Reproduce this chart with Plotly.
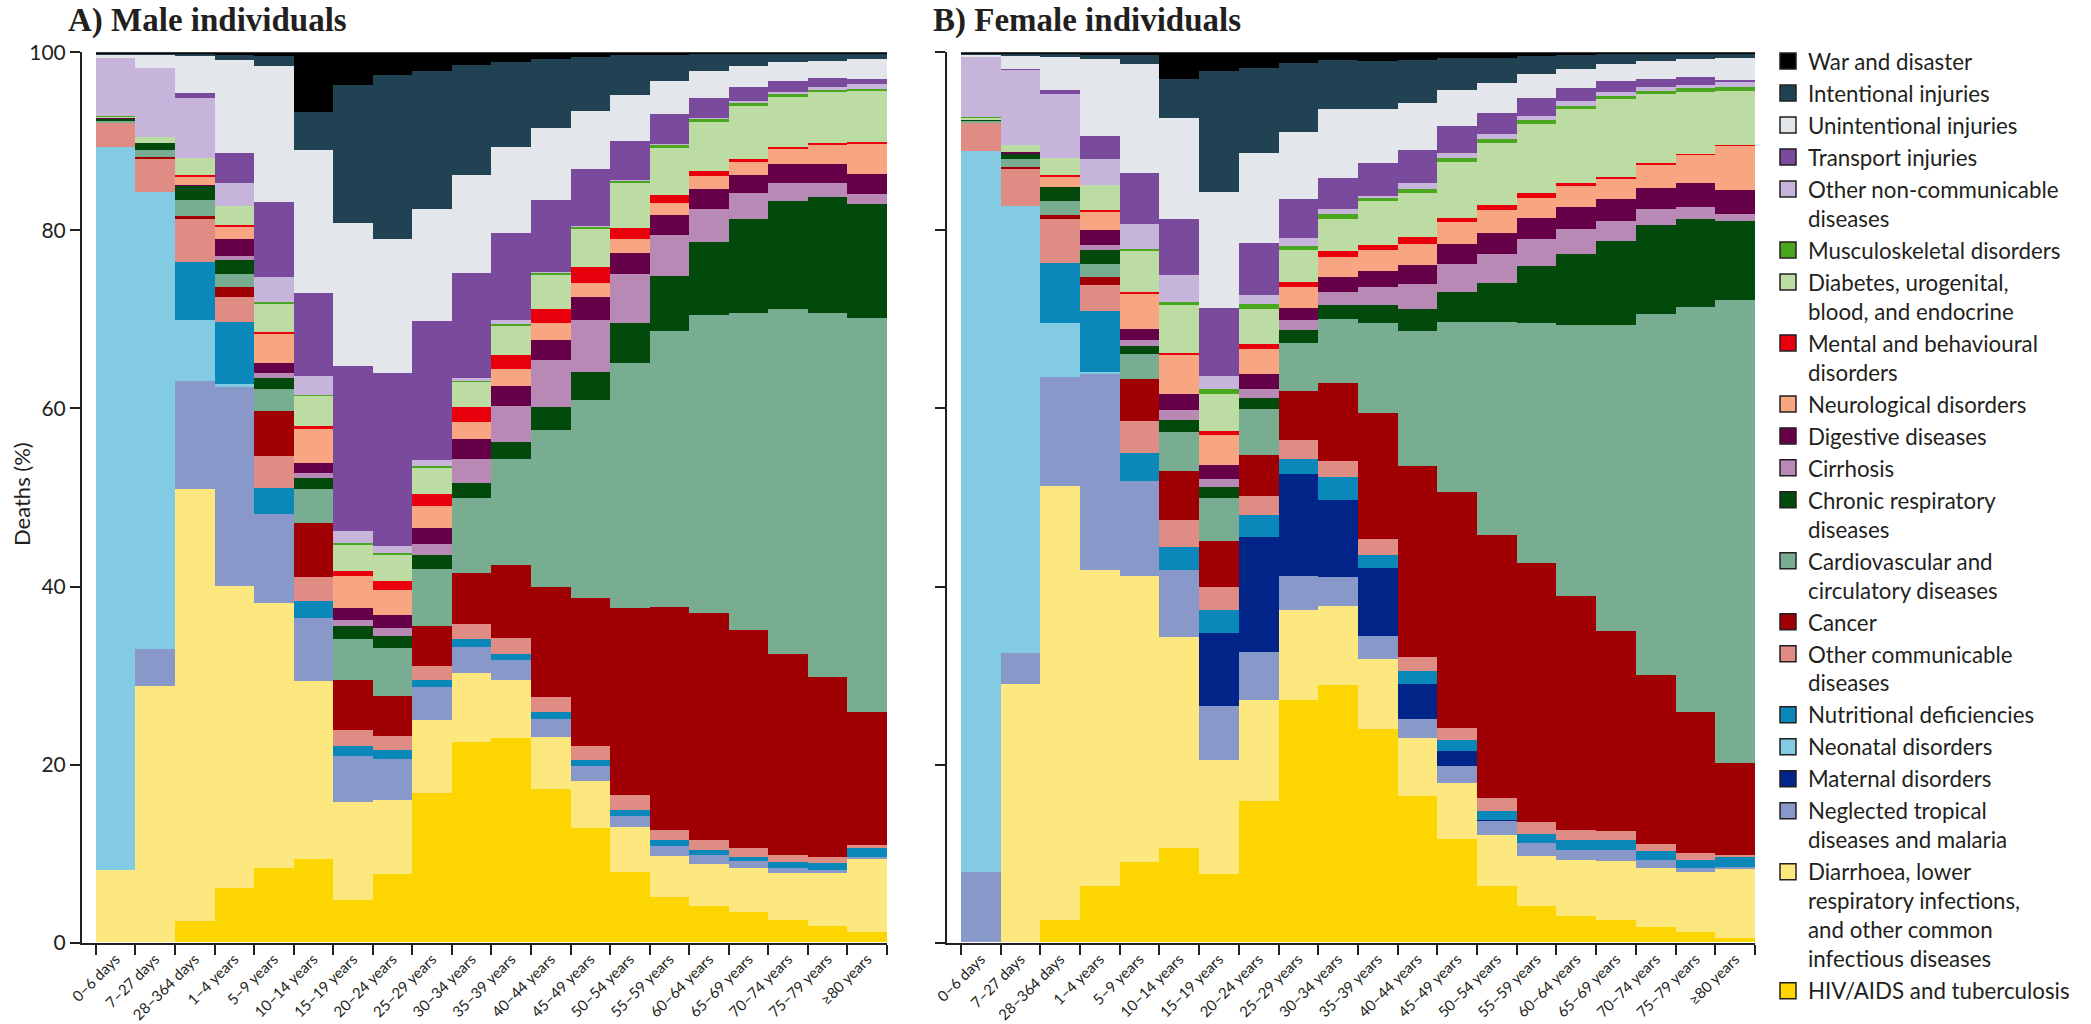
import plotly.graph_objects as go

W, H = 2091, 1024

categories = ["0–6 days", "7–27 days", "28–364 days", "1–4 years", "5–9 years",
              "10–14 years", "15–19 years", "20–24 years", "25–29 years", "30–34 years",
              "35–39 years", "40–44 years", "45–49 years", "50–54 years", "55–59 years",
              "60–64 years", "65–69 years", "70–74 years", "75–79 years", "≥80 years"]

y_ticks = [0, 20, 40, 60, 80, 100]

# ---------------- Male individuals (% of deaths) ----------------
male_hiv = [0, 0, 2.44, 6.11, 8.36, 9.29, 4.8, 7.72, 16.78, 22.5, 22.96, 17.24, 12.85, 7.87, 5.1, 4.05, 3.37, 2.47, 1.88, 1.12]
male_diarrhoea = [8.17, 28.77, 48.5, 33.97, 29.77, 19.92, 10.93, 8.24, 8.16, 7.77, 6.56, 5.84, 5.32, 5.05, 4.64, 4.79, 4.99, 5.33, 5.92, 8.36]
male_ntd = [0, 4.23, 12.09, 22.39, 9.93, 7.12, 5.25, 4.64, 3.71, 2.88, 2.24, 2.05, 1.68, 1.32, 1.05, 1.01, 0.74, 0.56, 0.37, 0.15]
male_maternal = [0] * 20
male_neonatal = [81.38, 51.27, 6.86, 0.2, 0, 0, 0, 0, 0, 0, 0, 0, 0, 0, 0, 0, 0, 0, 0, 0]
male_nutritional = [0, 0, 6.56, 7.0, 3.0, 1.8, 1.12, 1.05, 0.87, 0.94, 0.68, 0.71, 0.68, 0.67, 0.67, 0.57, 0.5, 0.63, 0.75, 0.97]
male_other_comm = [2.7, 3.73, 4.85, 2.81, 3.54, 2.7, 1.8, 1.5, 1.57, 1.61, 1.76, 1.73, 1.6, 1.61, 1.2, 1.04, 1.0, 0.86, 0.63, 0.38]
male_cancer = [0, 0.2, 0.34, 1.17, 5.06, 6.1, 5.54, 4.49, 4.49, 5.73, 8.13, 12.36, 16.57, 21.05, 25.02, 25.55, 24.46, 22.59, 20.27, 14.98]
male_cardio = [0.3, 0.8, 1.7, 1.38, 2.44, 3.79, 4.65, 5.44, 6.37, 8.5, 11.91, 17.67, 22.28, 27.45, 30.97, 33.41, 35.66, 38.73, 40.97, 44.31]
male_chronic_resp = [0.2, 0.75, 1.68, 1.58, 1.3, 1.27, 1.49, 1.3, 1.61, 1.61, 1.94, 2.56, 3.18, 4.58, 6.18, 8.23, 10.56, 12.2, 13.03, 12.81]
male_cirrhosis = [0, 0, 0, 0.45, 0.56, 0.5, 0.6, 0.94, 1.13, 2.77, 4.04, 5.23, 5.81, 5.42, 4.57, 3.75, 2.92, 2.02, 1.57, 1.12]
male_digestive = [0.05, 0, 0.1, 1.9, 1.14, 1.1, 1.39, 1.5, 1.87, 2.17, 2.25, 2.33, 2.61, 2.44, 2.25, 2.25, 2.06, 2.1, 2.18, 2.17]
male_neuro = [0, 0, 0.95, 1.49, 3.18, 3.94, 3.55, 2.81, 2.43, 1.95, 1.96, 1.88, 1.58, 1.57, 1.43, 1.42, 1.49, 1.66, 2.17, 3.52]
male_mental = [0, 0, 0.15, 0.1, 0.25, 0.2, 0.57, 1.0, 1.31, 1.73, 1.49, 1.57, 1.73, 1.24, 0.82, 0.52, 0.3, 0.3, 0.15, 0.1]
male_diabetes = [0.2, 0.76, 1.9, 2.1, 3.2, 3.4, 3.0, 2.92, 3.0, 2.76, 3.37, 3.85, 4.38, 4.98, 5.36, 5.54, 5.96, 5.61, 5.73, 5.74]
male_musculo = [0.05, 0, 0, 0, 0.15, 0.15, 0.15, 0.15, 0.15, 0.15, 0.15, 0.2, 0.2, 0.3, 0.34, 0.37, 0.3, 0.3, 0.3, 0.27]
male_other_ncd = [6.55, 7.74, 6.74, 2.6, 2.8, 2.1, 1.35, 0.8, 0.7, 0.3, 0.45, 0.1, 0.1, 0.1, 0.1, 0.1, 0.3, 0.3, 0.34, 0.56]
male_transport = [0, 0, 0.57, 3.44, 8.43, 9.24, 18.54, 19.41, 15.62, 11.81, 9.82, 8.04, 6.35, 4.35, 3.3, 2.27, 1.58, 1.19, 0.98, 0.52]
male_unintentional = [0.35, 1.5, 4.11, 10.41, 15.28, 16.04, 16.03, 15.13, 12.55, 10.94, 9.66, 8.16, 6.55, 5.13, 3.74, 3.0, 2.32, 2.14, 1.94, 2.29]
male_intentional = [0.1, 0.1, 0.3, 0.6, 1.12, 4.19, 15.51, 18.35, 15.54, 12.35, 9.51, 7.75, 6.11, 4.5, 2.89, 1.94, 1.4, 0.95, 0.8, 0.6]
male_war = [0.17, 0.17, 0.17, 0.3, 0.45, 6.74, 3.74, 2.62, 2.13, 1.5, 1.12, 0.75, 0.52, 0.37, 0.37, 0.19, 0.17, 0.17, 0.17, 0.17]

# ---------------- Female individuals (% of deaths) ----------------
female_hiv = [0, 0, 2.55, 6.29, 8.99, 10.6, 7.72, 15.84, 27.27, 28.96, 23.97, 16.48, 11.62, 6.37, 4.05, 2.92, 2.47, 1.73, 1.12, 0.49]
female_diarrhoea = [0, 28.96, 48.69, 35.59, 32.21, 23.71, 12.73, 11.43, 10.11, 8.79, 7.87, 6.48, 6.29, 5.73, 5.69, 6.29, 6.63, 6.63, 6.75, 7.87]
female_ntd = [7.87, 3.56, 12.29, 22.02, 10.6, 7.49, 6.15, 5.31, 3.82, 3.31, 2.62, 2.14, 1.87, 1.61, 1.43, 1.21, 1.32, 0.85, 0.49, 0.1]
female_maternal = [0, 0, 0, 0, 0, 0, 8.16, 12.97, 11.35, 8.68, 7.6, 3.97, 1.68, 0.05, 0, 0, 0, 0, 0, 0]
female_neonatal = [80.75, 50.18, 6.07, 0.15, 0, 0, 0, 0, 0, 0, 0, 0, 0, 0, 0, 0, 0, 0, 0, 0]
female_nutritional = [0, 0, 6.74, 6.85, 3.11, 2.63, 2.54, 2.51, 1.76, 2.55, 1.5, 1.38, 1.24, 0.96, 1.01, 1.04, 1.04, 1.01, 0.93, 1.14]
female_other_comm = [3.26, 4.12, 4.86, 2.89, 3.63, 3.06, 2.63, 2.05, 2.09, 1.75, 1.69, 1.62, 1.39, 1.5, 1.3, 1.2, 1.01, 0.87, 0.75, 0.26]
female_cancer = [0, 0.3, 0.45, 0.97, 4.68, 5.43, 5.13, 4.69, 5.51, 8.81, 14.23, 21.49, 26.47, 29.48, 29.15, 26.22, 22.47, 18.99, 15.8, 10.3]
female_cardio = [0.2, 0.8, 1.61, 1.39, 2.81, 4.38, 4.87, 5.13, 5.44, 7.12, 10.12, 15.09, 19.1, 23.96, 26.97, 30.41, 34.35, 40.56, 45.55, 52.05]
female_chronic_resp = [0.15, 0.68, 1.61, 1.6, 0.94, 1.35, 1.24, 1.24, 1.41, 1.57, 1.94, 2.52, 3.37, 4.43, 6.36, 7.98, 9.47, 10.0, 9.89, 8.91]
female_cirrhosis = [0, 0, 0, 0.52, 0.67, 1.12, 0.82, 0.94, 1.12, 1.5, 2.1, 2.73, 3.12, 3.18, 3.07, 2.81, 2.25, 1.76, 1.35, 0.84]
female_digestive = [0, 0.1, 0, 1.73, 1.2, 1.77, 1.68, 1.69, 1.4, 1.72, 1.75, 2.13, 2.24, 2.44, 2.36, 2.55, 2.44, 2.36, 2.69, 2.69]
female_neuro = [0, 0, 1.2, 2.13, 4.05, 4.49, 3.37, 2.88, 2.36, 2.25, 2.36, 2.36, 2.51, 2.54, 2.25, 2.31, 2.25, 2.62, 3.18, 4.98]
female_mental = [0, 0, 0.1, 0.15, 0.15, 0.2, 0.37, 0.49, 0.52, 0.64, 0.52, 0.86, 0.49, 0.52, 0.49, 0.37, 0.3, 0.2, 0.15, 0.1]
female_diabetes = [0.15, 0.8, 1.96, 2.74, 4.71, 5.31, 4.13, 3.93, 3.59, 3.63, 4.99, 4.95, 6.25, 6.97, 7.75, 8.25, 8.69, 7.78, 6.97, 6.08]
female_musculo = [0.1, 0, 0, 0, 0.15, 0.37, 0.56, 0.56, 0.45, 0.49, 0.37, 0.45, 0.49, 0.45, 0.49, 0.37, 0.37, 0.37, 0.37, 0.37]
female_other_ncd = [6.67, 8.46, 7.12, 3.0, 2.74, 3.0, 1.5, 1.01, 0.9, 0.56, 0.2, 0.67, 0.49, 0.56, 0.45, 0.56, 0.45, 0.45, 0.37, 0.56]
female_transport = [0, 0.1, 0.48, 2.54, 5.81, 6.29, 7.68, 5.92, 4.43, 3.56, 3.66, 3.67, 3.07, 2.36, 2.05, 1.51, 1.23, 0.82, 0.86, 0.26]
female_unintentional = [0.3, 1.55, 3.75, 8.69, 12.17, 11.43, 12.99, 10.04, 7.48, 7.74, 6.07, 5.32, 4.04, 3.45, 2.62, 2.13, 1.88, 2.1, 2.03, 2.48]
female_intentional = [0.1, 0.2, 0.3, 0.45, 1.0, 4.3, 13.6, 9.62, 7.72, 5.47, 5.43, 4.79, 3.64, 2.81, 2.06, 1.5, 1.2, 0.8, 0.65, 0.5]
female_war = [0.2, 0.17, 0.22, 0.3, 0.37, 3.07, 2.13, 1.76, 1.27, 0.9, 1.01, 0.9, 0.63, 0.63, 0.45, 0.37, 0.18, 0.17, 0.17, 0.17]

# Series, bottom of the stack first: (legend label, colour, male values, female values)
series = [
    ("HIV/AIDS and tuberculosis", "#fdd500", male_hiv, female_hiv),
    ("Diarrhoea, lower<br>respiratory infections,<br>and other common<br>infectious diseases", "#fde77f", male_diarrhoea, female_diarrhoea),
    ("Neglected tropical<br>diseases and malaria", "#8898c9", male_ntd, female_ntd),
    ("Maternal disorders", "#012489", male_maternal, female_maternal),
    ("Neonatal disorders", "#82cbe2", male_neonatal, female_neonatal),
    ("Nutritional deficiencies", "#0a88b9", male_nutritional, female_nutritional),
    ("Other communicable<br>diseases", "#df8c84", male_other_comm, female_other_comm),
    ("Cancer", "#a00003", male_cancer, female_cancer),
    ("Cardiovascular and<br>circulatory diseases", "#78ad91", male_cardio, female_cardio),
    ("Chronic respiratory<br>diseases", "#014a0c", male_chronic_resp, female_chronic_resp),
    ("Cirrhosis", "#b889b4", male_cirrhosis, female_cirrhosis),
    ("Digestive diseases", "#660049", male_digestive, female_digestive),
    ("Neurological disorders", "#f8a682", male_neuro, female_neuro),
    ("Mental and behavioural<br>disorders", "#e9000c", male_mental, female_mental),
    ("Diabetes, urogenital,<br>blood, and endocrine", "#bddca4", male_diabetes, female_diabetes),
    ("Musculoskeletal disorders", "#4aa51f", male_musculo, female_musculo),
    ("Other non-communicable<br>diseases", "#c6b4da", male_other_ncd, female_other_ncd),
    ("Transport injuries", "#7a4a9c", male_transport, female_transport),
    ("Unintentional injuries", "#e3e6ea", male_unintentional, female_unintentional),
    ("Intentional injuries", "#214252", male_intentional, female_intentional),
    ("War and disaster", "#000000", male_war, female_war),
]

TXT = "#231f20"
FONT = "Lato"

fig = go.Figure()
for i, (name, color, mvals, fvals) in enumerate(series):
    grp = "g%d" % i
    fig.add_trace(go.Bar(x=categories, y=mvals, name=name, legendgroup=grp,
                         marker=dict(color=color, line=dict(width=0)),
                         xaxis="x", yaxis="y", showlegend=False))
    fig.add_trace(go.Bar(x=categories, y=fvals, name=name, legendgroup=grp,
                         marker=dict(color=color, line=dict(width=0)),
                         xaxis="x2", yaxis="y2", showlegend=False))
    # legend key (outlined square swatch, as in the original legend)
    fig.add_trace(go.Scatter(x=[None], y=[None], mode="markers", name=name,
                             legendgroup=grp, showlegend=True, hoverinfo="skip",
                             marker=dict(symbol="square", size=16, color=color,
                                         line=dict(color=TXT, width=1.5)),
                             xaxis="x", yaxis="y"))


def px_x(v):
    return v / W


def px_y(v):
    return 1 - v / H


y_dom = [px_y(942.7), px_y(52.3)]

xaxis_common = dict(type="category", categoryorder="array", categoryarray=categories,
                    range=[-0.85, 19.5], showline=True, linecolor=TXT, linewidth=2,
                    ticks="outside", tickson="boundaries", ticklen=10, tickwidth=2,
                    tickcolor=TXT, tickangle=-45, showgrid=False, zeroline=False,
                    tickfont=dict(family=FONT, size=15, color=TXT), automargin=False,
                    fixedrange=True)
yaxis_common = dict(range=[0, 100], tickvals=y_ticks, showline=True, linecolor=TXT,
                    linewidth=2, ticks="outside", ticklen=10, tickwidth=2, tickcolor=TXT,
                    showgrid=False, zeroline=False, automargin=False,
                    tickfont=dict(family=FONT, size=21, color=TXT), fixedrange=True)

fig.update_layout(
    width=W, height=H,
    margin=dict(l=0, r=0, t=0, b=0),
    paper_bgcolor="white", plot_bgcolor="white",
    barmode="stack", barnorm="percent", bargap=0,
    xaxis=dict(domain=[px_x(82), px_x(887)], anchor="y", **xaxis_common),
    yaxis=dict(domain=y_dom, anchor="x", showticklabels=True, **yaxis_common),
    xaxis2=dict(domain=[px_x(947), px_x(1755)], anchor="y2", **xaxis_common),
    yaxis2=dict(domain=y_dom, anchor="x2", showticklabels=False, **yaxis_common),
    legend=dict(x=px_x(1768), y=px_y(40), xanchor="left", yanchor="top",
                traceorder="reversed", valign="top", tracegroupgap=0,
                font=dict(family=FONT, size=22.3, color=TXT), bgcolor="rgba(0,0,0,0)",
                itemwidth=30),
    font=dict(family=FONT, color=TXT),
    showlegend=True,
)

fig.add_annotation(text="<b>A) Male individuals</b>", xref="paper", yref="paper",
                   x=px_x(66), y=px_y(0), xanchor="left", yanchor="top", showarrow=False,
                   font=dict(family="Liberation Serif", size=33, color=TXT))
fig.add_annotation(text="<b>B) Female individuals</b>", xref="paper", yref="paper",
                   x=px_x(931), y=px_y(0), xanchor="left", yanchor="top", showarrow=False,
                   font=dict(family="Liberation Serif", size=33, color=TXT))
fig.add_annotation(text="Deaths (%)", xref="paper", yref="paper",
                   x=px_x(21), y=px_y(494), xanchor="center", yanchor="middle",
                   textangle=-90, showarrow=False,
                   font=dict(family=FONT, size=22, color=TXT))

fig.write_html("out.html", config={"displayModeBar": False},
               post_script="document.body.style.margin='0px';")
